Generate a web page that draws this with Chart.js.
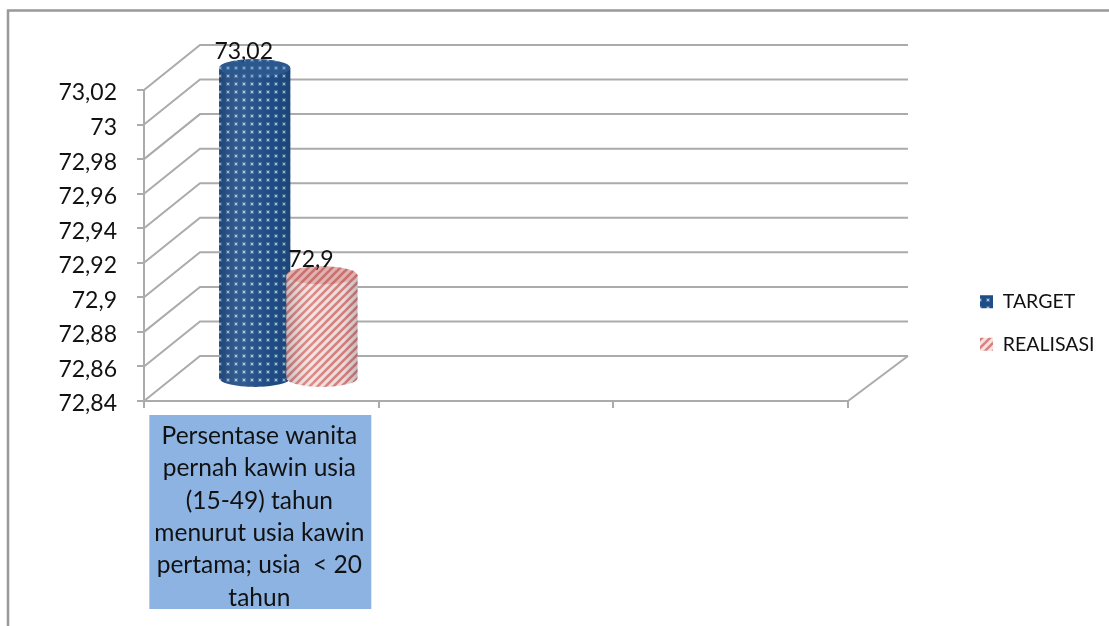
<!DOCTYPE html>
<html>
<head>
<meta charset="utf-8">
<style>
  html, body { margin: 0; padding: 0; background: #fff; }
  #wrap { position: relative; width: 1109px; height: 626px; }
  canvas { filter: blur(0.4px); }
</style>
<script src="https://cdn.jsdelivr.net/npm/chart.js@4"></script>
</head>
<body>
<div id="wrap"><canvas id="chart"></canvas></div>
<script>
// Chart data
const categories = [
  ['Persentase wanita', 'pernah kawin usia', '(15-49) tahun', 'menurut usia kawin', 'pertama; usia  < 20', 'tahun'],
  '',
  ''
];
const targetValues = [73.02, null, null];
const realisasiValues = [72.9, null, null];
const yTickLabels = ['72,84', '72,86', '72,88', '72,9', '72,92', '72,94', '72,96', '72,98', '73', '73,02'];
const dataLabels = ['73,02', '72,9'];

const FONT = 'Lato, "Open Sans", sans-serif';
const LINE_COLOR = '#ababab';

// Fill patterns for the two series
function dotPattern() {
  const tile = document.createElement('canvas');
  tile.width = 8;
  tile.height = 8;
  const c = tile.getContext('2d');
  c.fillStyle = '#1f4d87';
  c.fillRect(0, 0, 8, 8);
  c.fillStyle = '#44709f';
  c.fillRect(2, 2, 4, 4);
  c.fillStyle = '#a9c2dc';
  c.fillRect(3, 3, 2, 2);
  return c.createPattern(tile, 'repeat');
}

function stripePattern() {
  const tile = document.createElement('canvas');
  tile.width = 8;
  tile.height = 8;
  const c = tile.getContext('2d');
  c.fillStyle = '#f6e2e0';
  c.fillRect(0, 0, 8, 8);
  c.strokeStyle = '#d9827e';
  c.lineWidth = 2.6;
  [[-4, 4, 4, -4], [-4, 12, 12, -4], [4, 12, 12, 4]].forEach(l => {
    c.beginPath();
    c.moveTo(l[0], l[1]);
    c.lineTo(l[2], l[3]);
    c.stroke();
  });
  return c.createPattern(tile, 'repeat');
}

// Draws one cylinder from a bar element
function drawCylinder(ctx, bar, fill, topShade) {
  const rx = bar.width / 2;
  const ry = 9;
  const cx = bar.x + 27;
  const top = bar.y - 22;
  const bottom = bar.base - 22;

  ctx.beginPath();
  ctx.moveTo(cx - rx, top);
  ctx.lineTo(cx - rx, bottom);
  ctx.ellipse(cx, bottom, rx, ry, 0, Math.PI, 0, true);
  ctx.lineTo(cx + rx, top);
  ctx.closePath();
  ctx.fillStyle = fill;
  ctx.fill();

  const shade = ctx.createLinearGradient(cx - rx, 0, cx + rx, 0);
  shade.addColorStop(0, 'rgba(20,30,50,0.2)');
  shade.addColorStop(0.35, 'rgba(255,255,255,0.08)');
  shade.addColorStop(0.8, 'rgba(20,30,50,0.04)');
  shade.addColorStop(1, 'rgba(20,30,50,0.2)');
  ctx.fillStyle = shade;
  ctx.fill();

  ctx.beginPath();
  ctx.ellipse(cx, top, rx, ry, 0, 0, Math.PI * 2);
  ctx.fillStyle = fill;
  ctx.fill();
  ctx.fillStyle = topShade;
  ctx.fill();
}

const scene3d = {
  id: 'scene3d',
  afterLayout(chart) {
    // the legend sits well clear of the plot, so place it by hand
    chart.legend.left = 957;
    chart.legend.right = 1109;
    chart.legend.top = 269;
    chart.legend.bottom = 400;
  },
  beforeDraw(chart) {
    const ctx = chart.ctx;
    // outer frame of the chart object
    ctx.save();
    ctx.strokeStyle = '#999';
    ctx.lineWidth = 2.5;
    ctx.beginPath();
    ctx.moveTo(8, 626);
    ctx.lineTo(8, 10.5);
    ctx.lineTo(1109, 10.5);
    ctx.stroke();
    ctx.restore();
  },
  beforeDatasetsDraw(chart) {
    const ctx = chart.ctx;
    const x = chart.scales.x;
    const y = chart.scales.y;
    const area = chart.chartArea;
    const backLeft = area.left + 56;
    const backRight = area.right + 60;

    ctx.save();
    ctx.strokeStyle = LINE_COLOR;
    ctx.lineWidth = 2;
    y.ticks.forEach(t => {
      const py = y.getPixelForValue(t.value);
      ctx.beginPath();
      ctx.moveTo(area.left, py);
      ctx.lineTo(backLeft, py - 45);
      ctx.lineTo(backRight, py - 45);
      ctx.stroke();
    });
    // right edge of the floor
    ctx.beginPath();
    ctx.moveTo(area.right, area.bottom);
    ctx.lineTo(backRight, area.bottom - 45);
    ctx.stroke();

    // blue panel behind the category label
    ctx.fillStyle = '#8db3e2';
    ctx.fillRect(x.getPixelForTick(0) - 112, area.bottom + 14, 222, 194);
    ctx.restore();

    // cylinders in dataset order, so the second overlaps the first
    const shades = ['rgba(70,110,160,0.35)', 'rgba(170,70,70,0.3)'];
    chart.data.datasets.forEach((ds, i) => {
      chart.getDatasetMeta(i).data.forEach((bar, j) => {
        if (ds.data[j] !== null) {
          drawCylinder(ctx, bar, ds.backgroundColor, shades[i]);
        }
      });
    });
  },
  beforeDatasetDraw() {
    return false;
  },
  afterDatasetsDraw(chart) {
    const ctx = chart.ctx;
    ctx.save();
    ctx.fillStyle = '#111';
    ctx.font = '23px ' + FONT;
    ctx.textAlign = 'center';
    ctx.textBaseline = 'middle';
    chart.data.datasets.forEach((ds, i) => {
      const bar = chart.getDatasetMeta(i).data[0];
      ctx.fillText(dataLabels[i], bar.x + 16, bar.y - 38);
    });
    ctx.restore();
  }
};

new Chart(document.getElementById('chart'), {
  type: 'bar',
  data: {
    labels: categories,
    datasets: [
      { label: 'TARGET', data: targetValues, base: 72.84, backgroundColor: dotPattern(), borderWidth: 0 },
      { label: 'REALISASI', data: realisasiValues, base: 72.84, backgroundColor: stripePattern(), borderWidth: 0 }
    ]
  },
  options: {
    responsive: true,
    maintainAspectRatio: false,
    animation: false,
    categoryPercentage: 0.573,
    barPercentage: 1.06,
    layout: { padding: { top: 90, right: 251, bottom: 0, left: 0 } },
    plugins: {
      tooltip: { enabled: false },
      legend: {
        position: 'right',
        align: 'start',
        maxWidth: 10,
        labels: {
          boxWidth: 13,
          boxHeight: 13,
          padding: 23,
          color: '#111',
          font: { family: FONT, size: 19.5 }
        }
      }
    },
    scales: {
      x: {
        afterFit(scale) { scale.height = 225; },
        grid: { drawOnChartArea: false, color: LINE_COLOR, lineWidth: 2, tickLength: 7 },
        border: { color: LINE_COLOR, width: 2 },
        ticks: {
          autoSkip: false,
          maxRotation: 0,
          padding: 12,
          labelOffset: -2,
          z: 1,
          color: '#111',
          font: { family: FONT, size: 24.5, lineHeight: 1.32 }
        }
      },
      y: {
        min: 72.84,
        max: 73.02,
        afterFit(scale) { scale.width = 144; },
        grid: { drawOnChartArea: false, color: LINE_COLOR, lineWidth: 2, tickLength: 7 },
        border: { color: LINE_COLOR, width: 2 },
        ticks: {
          stepSize: 0.02,
          padding: 20,
          labelOffset: 3,
          color: '#111',
          font: { family: FONT, size: 23 },
          callback: (value, index) => yTickLabels[index]
        }
      }
    }
  },
  plugins: [scene3d]
});
</script>
</body>
</html>
